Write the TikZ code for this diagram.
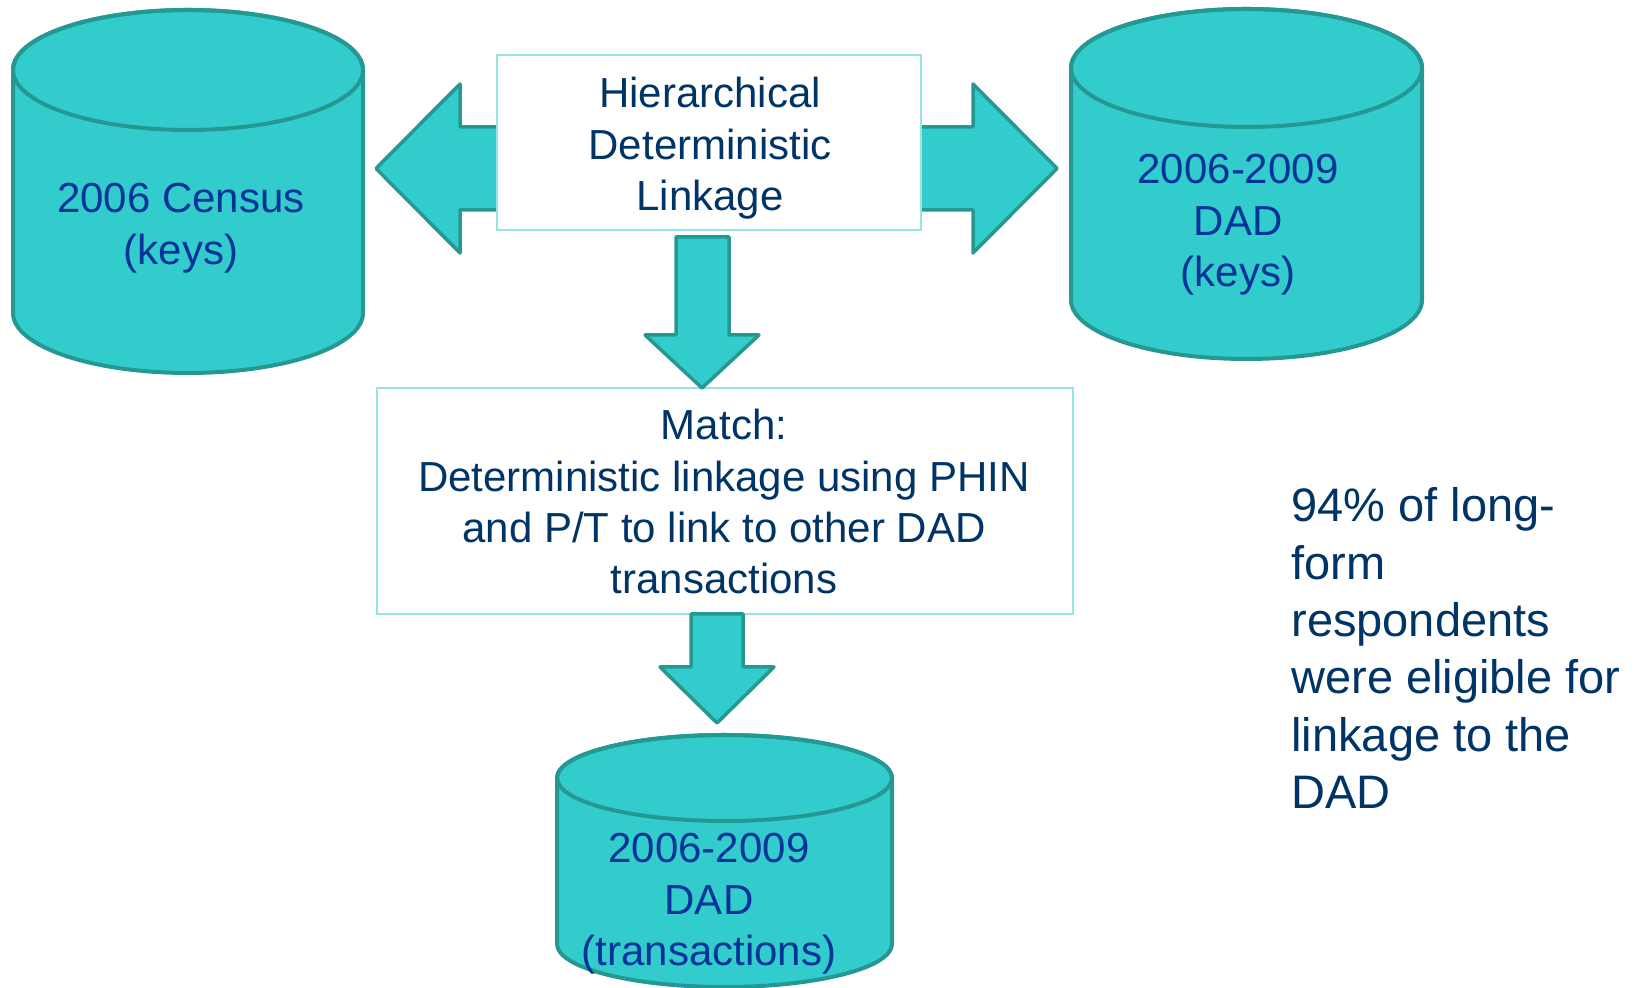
\documentclass[tikz,border=0pt]{standalone}
\usepackage{fontspec}
\setmainfont{Liberation Sans}
\definecolor{cylfill}{RGB}{51,204,204}
\definecolor{cyledge}{RGB}{38,152,148}
\definecolor{boxedge}{RGB}{150,228,228}
\definecolor{cyltext}{RGB}{0,51,153}
\definecolor{boxtext}{RGB}{0,51,102}
% a block of centred or left-set lines whose baseline is the first line
\newcommand\linestack[2]{\begin{tabular}[t]{@{}#1@{}}#2\end{tabular}}
% database drum: centre x, top-ellipse y, bottom-ellipse y, x radius, y radius
\newcommand\drum[5]{%
  \path[drumbody] (#1-#4,#2) -- (#1-#4,#3)
    arc[start angle=180,end angle=360,x radius=#4,y radius=#5]
    -- (#1+#4,#2)
    arc[start angle=0,end angle=180,x radius=#4,y radius=#5] -- cycle;
  \draw[drumrim] (#1,#2) ellipse[x radius=#4,y radius=#5];}
\begin{document}
\begin{tikzpicture}[x=0.5pt,y=0.5pt,
  drumbody/.style={fill=cylfill,draw=cyledge,line width=2pt},
  drumrim/.style={draw=cyledge,line width=2pt},
  blockarrow/.style={fill=cylfill,draw=cyledge,line width=1.75pt,line join=round},
  textbox/.style={rectangle,draw=boxedge,fill=white,line width=1pt,inner sep=0pt},
  drumlabel/.style={anchor=base,inner sep=0pt,text=cyltext,font=\fontsize{21}{25.6}\selectfont},
  boxlabel/.style={anchor=base,inner sep=0pt,text=boxtext,font=\fontsize{21}{25.6}\selectfont},
  notelabel/.style={anchor=base west,inner sep=0pt,text=boxtext,font=\fontsize{23.5}{28.65}\selectfont}]
\useasboundingbox (0,0) rectangle (1641,988);

% two-headed arrow running behind the linkage box
\draw[blockarrow] (376,819.5) -- (460,904) -- (460,861) -- (973,861) -- (973,904)
  -- (1057,819.5) -- (973,735) -- (973,778) -- (460,778) -- (460,735) -- cycle;

% process boxes
\node[textbox,minimum width=212pt,minimum height=87.5pt] (linkbox) at (709,845.5) {};
\node[textbox,minimum width=348pt,minimum height=113pt] (matchbox) at (725,487) {};

% downward arrows
\draw[blockarrow] (676,751) -- (729,751) -- (729,653) -- (759,653) -- (702,600)
  -- (645,653) -- (676,653) -- cycle;
\draw[blockarrow] (691,374) -- (743,374) -- (743,321) -- (774,321) -- (717,265)
  -- (660,321) -- (691,321) -- cycle;

% databases
\drum{188}{918}{675}{175}{60}
\drum{1246.5}{920}{688}{175.5}{59}
\drum{724.5}{210}{44}{167.5}{43}

% labels
\node[drumlabel] (census) at (181,775) {\linestack{c}{2006 Census\\(keys)}};
\node[drumlabel] (dadkeys) at (1238,804) {\linestack{c}{2006-2009\\DAD\\(keys)}};
\node[drumlabel] (dadtrans) at (709,125) {\linestack{c}{2006-2009\\DAD\\(transactions)}};
\node[boxlabel] (linktext) at (710,880) {\linestack{c}{Hierarchical\\Deterministic\\Linkage}};
\node[boxlabel] (matchtext) at (724,548) {\linestack{c}{Match:\\Deterministic linkage using PHIN\\and P/T to link to other DAD\\transactions}};
\node[notelabel] (note) at (1291,466) {\linestack{l}{94\% of long-\\form\\respondents\\were eligible for\\linkage to the\\DAD}};
\end{tikzpicture}
\end{document}
